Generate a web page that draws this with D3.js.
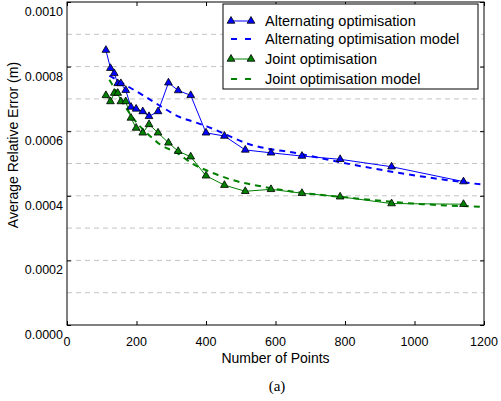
<!DOCTYPE html>
<html>
<head>
<meta charset="utf-8">
<script src="https://cdn.jsdelivr.net/npm/d3@7"></script>
<style>
  body { margin: 0; background: #fff; }
  text { font-family: "Liberation Sans", Arial, sans-serif; }
</style>
</head>
<body>
<div id="chart"></div>
<script>
// Data
var nPoints = [112, 125, 136, 146, 155, 169, 184, 199, 218, 236, 262, 292, 320, 356, 400, 453, 513, 587, 676, 786, 934, 1141];
var altError = [0.000851, 0.000795, 0.000779, 0.000748, 0.000748, 0.000727, 0.000675, 0.000669, 0.000661, 0.000646, 0.000661, 0.000750,
                0.000726, 0.000711, 0.000595, 0.000585, 0.000542, 0.000533, 0.000523, 0.000513, 0.000490, 0.000444];
var jointError = [0.000711, 0.000692, 0.000718, 0.000718, 0.000692, 0.000692, 0.000641, 0.000610, 0.000595, 0.000621, 0.000595, 0.000564,
                  0.000538, 0.000521, 0.000462, 0.000433, 0.000414, 0.000420, 0.000408, 0.000397, 0.000376, 0.000374];
var altModelX = [122, 176, 224, 273, 320, 368, 402, 527, 670, 786, 1045, 1200];
var altModelY = [0.000772, 0.000738, 0.000708, 0.000675, 0.000646, 0.000628, 0.000615, 0.000559, 0.000530, 0.000504, 0.000456, 0.000434];
var jointModelX = [122, 148, 176, 205, 234, 268, 316, 363, 401, 479, 575, 671, 786, 1024, 1200];
var jointModelY = [0.000759, 0.000713, 0.000662, 0.000621, 0.000590, 0.000559, 0.000533, 0.000498, 0.000479, 0.000448, 0.000426,
                   0.000410, 0.000397, 0.000374, 0.000366];
var xTicks = [0, 200, 400, 600, 800, 1000, 1200];
var yTicks = [0, 0.0002, 0.0004, 0.0006, 0.0008, 0.0010];
var gridLevels = [0.0001, 0.0002, 0.0003, 0.0004, 0.0005, 0.0006, 0.0007, 0.0008, 0.0009];
var legendLabels = ["Alternating optimisation", "Alternating optimisation model", "Joint optimisation", "Joint optimisation model"];

var svgWidth = 501, svgHeight = 401;
var plot = { left: 67, right: 484, top: 2, bottom: 325 };

var svg = d3.select("#chart").append("svg")
    .attr("width", svgWidth)
    .attr("height", svgHeight);

var xScale = d3.scaleLinear().domain([0, 1200]).range([plot.left, plot.right]);
var yScale = d3.scaleLinear().domain([0, 0.001]).range([plot.bottom, plot.top]);

// dashed grid
svg.selectAll("line.grid").data(gridLevels).enter().append("line")
    .attr("class", "grid")
    .attr("x1", plot.left).attr("x2", plot.right)
    .attr("y1", d => yScale(d)).attr("y2", d => yScale(d))
    .attr("stroke", "#c4c4c4")
    .attr("stroke-width", 1)
    .attr("stroke-dasharray", "5,4");

// axes (ticks inward on all sides)
var tickLen = 4;
svg.append("g").attr("transform", `translate(0,${plot.bottom})`)
    .call(d3.axisBottom(xScale).tickValues(xTicks).tickSizeInner(-tickLen).tickSizeOuter(0).tickFormat(""))
    .call(g => g.select(".domain").remove());
svg.append("g").attr("transform", `translate(0,${plot.top})`)
    .call(d3.axisTop(xScale).tickValues(xTicks).tickSizeInner(-tickLen).tickSizeOuter(0).tickFormat(""))
    .call(g => g.select(".domain").remove());
svg.append("g").attr("transform", `translate(${plot.left},0)`)
    .call(d3.axisLeft(yScale).tickValues(yTicks).tickSizeInner(-tickLen).tickSizeOuter(0).tickFormat(""))
    .call(g => g.select(".domain").remove());
svg.append("g").attr("transform", `translate(${plot.right},0)`)
    .call(d3.axisRight(yScale).tickValues(yTicks).tickSizeInner(-tickLen).tickSizeOuter(0).tickFormat(""))
    .call(g => g.select(".domain").remove());

svg.append("rect")
    .attr("x", plot.left).attr("y", plot.top)
    .attr("width", plot.right - plot.left).attr("height", plot.bottom - plot.top)
    .attr("fill", "none").attr("stroke", "#000").attr("stroke-width", 1);

// tick labels
svg.selectAll("text.xlab").data(xTicks).enter().append("text")
    .attr("class", "xlab")
    .attr("x", d => xScale(d))
    .attr("y", plot.bottom + 21)
    .attr("text-anchor", "middle")
    .attr("font-size", "12.5px")
    .text(d => d);
svg.selectAll("text.ylab").data(yTicks).enter().append("text")
    .attr("class", "ylab")
    .attr("x", plot.left - 4)
    .attr("y", d => yScale(d) + 14)
    .attr("text-anchor", "end")
    .attr("font-size", "12.5px")
    .text(d => d.toFixed(4));

// axis titles
svg.append("text")
    .attr("x", (plot.left + plot.right) / 2)
    .attr("y", plot.bottom + 38)
    .attr("text-anchor", "middle")
    .attr("font-size", "14px")
    .text("Number of Points");
svg.append("text")
    .attr("transform", "rotate(-90)")
    .attr("x", -145)
    .attr("y", 18)
    .attr("text-anchor", "middle")
    .attr("font-size", "14px")
    .text("Average Relative Error (m)");
svg.append("text")
    .attr("x", 277)
    .attr("y", 391)
    .attr("text-anchor", "middle")
    .attr("font-size", "15px")
    .style("font-family", "'Liberation Serif', 'Times New Roman', serif")
    .text("(a)");

// series
var dataLine = d3.line().x(d => xScale(d[0])).y(d => yScale(d[1]));
var modelLine = d3.line().x(d => xScale(d[0])).y(d => yScale(d[1])).curve(d3.curveMonotoneX);
var tri = d3.symbol().type(d3.symbolTriangle).size(26);

var altPts = nPoints.map((n, i) => [n, altError[i]]);
var jointPts = nPoints.map((n, i) => [n, jointError[i]]);
var altModel = altModelX.map((n, i) => [n, altModelY[i]]);
var jointModel = jointModelX.map((n, i) => [n, jointModelY[i]]);

var blue = "#0000ff", green = "#008000";

function drawModel(pts, color) {
    svg.append("path").datum(pts)
        .attr("d", modelLine)
        .attr("fill", "none")
        .attr("stroke", color)
        .attr("stroke-width", 2)
        .attr("stroke-dasharray", "6,5");
}
function drawData(pts, color) {
    svg.append("path").datum(pts)
        .attr("d", dataLine)
        .attr("fill", "none")
        .attr("stroke", color)
        .attr("stroke-width", 1);
    svg.append("g").selectAll("path").data(pts).enter().append("path")
        .attr("d", tri)
        .attr("transform", d => `translate(${xScale(d[0])},${yScale(d[1])})`)
        .attr("fill", color)
        .attr("stroke", "#000")
        .attr("stroke-width", 0.8);
}
drawModel(jointModel, green);
drawData(jointPts, green);
drawModel(altModel, blue);
drawData(altPts, blue);

// legend
var legend = svg.append("g");
legend.append("rect")
    .attr("x", 223).attr("y", 4)
    .attr("width", 255).attr("height", 85)
    .attr("fill", "#fff").attr("stroke", "#000").attr("stroke-width", 1);
var rowY = [21, 39, 59, 79];
var rowColor = [blue, blue, green, green];
legendLabels.forEach(function(label, i) {
    var y = rowY[i];
    if (i % 2 === 0) {
        legend.append("line")
            .attr("x1", 231).attr("x2", 251).attr("y1", y).attr("y2", y)
            .attr("stroke", rowColor[i]).attr("stroke-width", 1);
        [231, 251].forEach(function(x) {
            legend.append("path").attr("d", tri)
                .attr("transform", `translate(${x},${y})`)
                .attr("fill", rowColor[i]).attr("stroke", "#000").attr("stroke-width", 0.8);
        });
    } else {
        legend.append("line")
            .attr("x1", 231).attr("x2", 251).attr("y1", y).attr("y2", y)
            .attr("stroke", rowColor[i]).attr("stroke-width", 2)
            .attr("stroke-dasharray", "6,8");
    }
    legend.append("text")
        .attr("x", 265).attr("y", y + 5)
        .attr("font-size", "14.5px")
        .text(label);
});
</script>
</body>
</html>
